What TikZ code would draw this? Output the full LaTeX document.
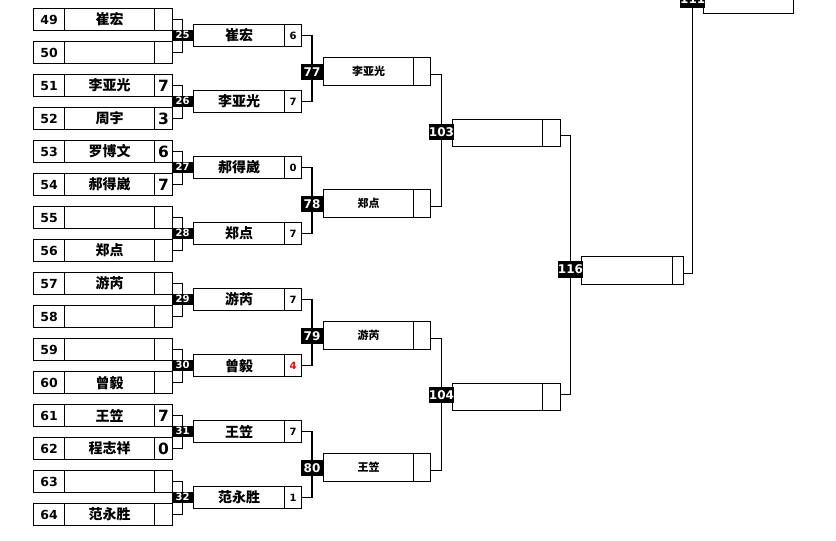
\documentclass[tikz,border=0pt]{standalone}
\usepackage{fontspec}
\setmainfont{DejaVu Sans}
\newfontfamily\cjk{Noto Sans CJK SC}
\usetikzlibrary{calc}
\pgfdeclarelayer{bg}
\pgfsetlayers{bg,main}
\tikzset{
  cell/.style={draw, line width=1.1pt, inner sep=0pt, anchor=north west, fill=white, minimum height=#1},
  conn/.style={draw, line width=1.1pt},
  tag/.style={fill=black, text=white, inner sep=0pt, font=\bfseries\fontsize{#1}{#1}\selectfont},
  numf/.style={font=\bfseries\fontsize{12.5}{12.5}\selectfont},
  namef/.style={font=\cjk\bfseries\fontsize{14}{14}\selectfont},
  bigsc/.style={font=\bfseries\fontsize{15.5}{15.5}\selectfont},
  smallsc/.style={font=\bfseries\fontsize{10}{10}\selectfont},
  smallname/.style={font=\cjk\bfseries\fontsize{11}{11}\selectfont},
}
\newcommand\rone[4]{%
  \node[cell=22pt, minimum width=31pt, numf] (n#1) at (33,#2) {#1};
  \node[cell=22pt, minimum width=90pt, namef] (m#1) at (64,#2) {#3};
  \node[cell=22pt, minimum width=18pt, bigsc] (s#1) at (154,#2) {#4};
}
\newcommand\rtwo[5]{%
  \node[cell=22pt, minimum width=91pt, namef] (b#1) at (193,#2) {#3};
  \node[cell=22pt, minimum width=17pt, smallsc, text=#5] (c#1) at (284,#2) {#4};
}
\newcommand\rthree[3]{%
  \node[cell=28pt, minimum width=90pt, smallname] (e#1) at (323,#2) {#3};
  \node[cell=28pt, minimum width=17pt] (d#1) at (413,#2) {};
}
\begin{document}
\begin{tikzpicture}[x=1pt, y=-1pt]
\useasboundingbox (0,0) rectangle (836,541);
% round 1
\rone{49}{8}{崔宏}{}
\rone{50}{41}{}{}
\rone{51}{74}{李亚光}{7}
\rone{52}{107}{周宇}{3}
\rone{53}{140}{罗博文}{6}
\rone{54}{173}{郝得崴}{7}
\rone{55}{206}{}{}
\rone{56}{239}{郑点}{}
\rone{57}{272}{游芮}{}
\rone{58}{305}{}{}
\rone{59}{338}{}{}
\rone{60}{371}{曾毅}{}
\rone{61}{404}{王笠}{7}
\rone{62}{437}{程志祥}{0}
\rone{63}{470}{}{}
\rone{64}{503}{范永胜}{}
% round 2
\rtwo{25}{24}{崔宏}{6}{black}
\rtwo{26}{90}{李亚光}{7}{black}
\rtwo{27}{156}{郝得崴}{0}{black}
\rtwo{28}{222}{郑点}{7}{black}
\rtwo{29}{288}{游芮}{7}{black}
\rtwo{30}{354}{曾毅}{4}{red}
\rtwo{31}{420}{王笠}{7}{black}
\rtwo{32}{486}{范永胜}{1}{black}
% round 3
\rthree{77}{57}{李亚光}
\rthree{78}{189}{郑点}
\rthree{79}{321}{游芮}
\rthree{80}{453}{王笠}
% round 4
\node[cell=27pt, minimum width=90pt] (e103) at (452,118.5) {};
\node[cell=27pt, minimum width=18pt] (d103) at (542,118.5) {};
\node[cell=27pt, minimum width=90pt] (e104) at (452,382.5) {};
\node[cell=27pt, minimum width=18pt] (d104) at (542,382.5) {};
% round 5
\node[cell=28pt, minimum width=91pt] (e116) at (581,255.5) {};
\node[cell=28pt, minimum width=11pt] (d116) at (672,255.5) {};
% final
\node[cell=28pt, minimum width=90pt] (fin) at (703,-14.7) {};
% match tags
\foreach \k/\y in {25/35,26/101,27/167,28/233,29/299,30/365,31/431,32/497}
  \node[tag=10, minimum width=21pt, minimum height=11pt] (j\k) at (182.5,\y) {\k};
\foreach \k/\y in {77/72,78/204,79/336,80/468}
  \node[tag=12, minimum width=22pt, minimum height=16pt] (j\k) at (312,\y) {\k};
\node[tag=12, minimum width=21pt, minimum height=16pt] (j103) at (441.5,132) {103};
\node[tag=12, minimum width=21pt, minimum height=16pt] (j104) at (441.5,395) {104};
\node[tag=12, minimum width=21pt, minimum height=17pt] (j116) at (570.5,269.5) {116};
\node[tag=12, minimum width=21pt, minimum height=16pt] (j111) at (692.7,-0.5) {111};
% connectors
\begin{pgfonlayer}{bg}
\foreach \k/\a/\b in {25/49/50,26/51/52,27/53/54,28/55/56,29/57/58,30/59/60,31/61/62,32/63/64}
  \draw[conn] (s\a.east) -| (j\k.center) |- (s\b.east);
\foreach \k/\a/\b in {77/25/26,78/27/28,79/29/30,80/31/32}
  \draw[conn] (c\a.east) -| (j\k.center) |- (c\b.east);
\draw[conn] ($(d77.east)+(0,3)$) -| (j103.center) |- ($(d78.east)+(0,3)$);
\draw[conn] ($(d79.east)+(0,3)$) -| (j104.center) |- ($(d80.east)+(0,3)$);
\draw[conn] ($(d103.east)+(0,2.5)$) -| (j116.center) |- ($(d104.east)+(0,-2)$);
\draw[conn] ($(d116.east)+(0,3)$) -| (j111.center);
\end{pgfonlayer}
\end{tikzpicture}
\end{document}
